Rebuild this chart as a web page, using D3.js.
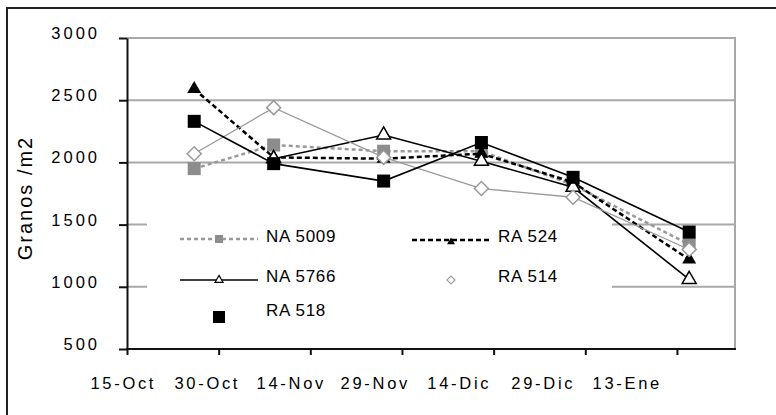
<!DOCTYPE html>
<meta charset="utf-8">
<script src="https://d3js.org/d3.v7.min.js"></script>
<body style="margin:0;background:#fff;">
<svg width="776" height="415"></svg>
<style type="text/css">
body{ font-family: Arial, 'Liberation Sans', sans-serif; }
text{ fill: #000; }
</style>
<script>
    // sampling dates (x) and grains per m2 per variety
    const DATES  = ['2001-10-26', '2001-11-08', '2001-11-26', '2001-12-12', '2001-12-27', '2002-01-15'];
    const NA5009 = [1950, 2140, 2090, 2090, 1820, 1340];
    const RA524  = [2590, 2040, 2030, 2070, 1840, 1220];
    const NA5766 = [null, 2030, 2220, 2010, 1800, 1060];
    const RA514  = [2070, 2440, 2040, 1790, 1720, 1300];
    const RA518  = [2330, 1990, 1850, 2160, 1880, 1440];
    const X_TICKS  = ['2001-10-15', '2001-10-30', '2001-11-14', '2001-11-29', '2001-12-14', '2001-12-29', '2002-01-13'];
    const X_LABELS = ['15-Oct', '30-Oct', '14-Nov', '29-Nov', '14-Dic', '29-Dic', '13-Ene'];
    const Y_TICKS  = [500, 1000, 1500, 2000, 2500, 3000];

    const pLeft = 127, pRight = 735, pTop = 38, pBottom = 349;
    const parse = s => new Date(s + 'T00:00:00Z');

    var svg = d3.select('svg');

    var x = d3.scaleUtc()
        .domain([parse('2001-10-15'), new Date(Date.UTC(2002, 0, 22, 12))])
        .range([pLeft, pRight]);
    var y = d3.scaleLinear().domain([500, 3000]).range([pBottom, pTop]);
    // excel put the date labels on their own spacing
    var xl = d3.scalePoint().domain(X_LABELS).range([122, 626]);

    // outer frame (only top and left survive the crop)
    svg.append('path')
        .attr('d', 'M7,415V8H776')
        .attr('fill', 'none').attr('stroke', '#222').attr('stroke-width', 2);

    /* ----------- grid ----------- */
    svg.selectAll('line.grid').data(Y_TICKS.slice(1)).enter().append('line')
        .attr('class', 'grid')
        .attr('x1', pLeft).attr('x2', pRight)
        .attr('y1', d => y(d)).attr('y2', d => y(d))
        .attr('stroke', '#a8a8a8').attr('stroke-width', 2);
    svg.append('line')
        .attr('x1', pRight).attr('x2', pRight).attr('y1', pTop - 1).attr('y2', pBottom)
        .attr('stroke', '#a8a8a8').attr('stroke-width', 2);

    // legend background hides the middle of the low gridlines
    svg.append('rect')
        .attr('x', 147).attr('y', 205).attr('width', 465).attr('height', 125)
        .attr('fill', '#fff');

    /* ----------- axes ----------- */
    var yAxis = svg.append('g')
        .attr('transform', `translate(${pLeft},0)`)
        .call(d3.axisLeft(y).tickValues(Y_TICKS).tickSize(8).tickSizeOuter(0).tickFormat(''));
    var xAxis = svg.append('g')
        .attr('transform', `translate(0,${pBottom})`)
        .call(d3.axisBottom(x).tickValues(X_TICKS.map(parse)).tickSize(6).tickSizeOuter(0).tickFormat(''));
    [yAxis, xAxis].forEach(g => {
        g.select('.domain').attr('stroke', '#111').attr('stroke-width', 2);
        g.selectAll('.tick line').attr('stroke', '#111').attr('stroke-width', 2);
    });
    xAxis.select('.domain').attr('d', `M${pLeft - 1},0H${pRight + 1}`);

    svg.selectAll('text.ytick').data(Y_TICKS).enter().append('text')
        .attr('class', 'ytick')
        .attr('x', 100).attr('y', d => y(d) + 1)
        .attr('text-anchor', 'end')
        .style('font-size', '16.5px').style('letter-spacing', '3px')
        .text(d => d);

    svg.selectAll('text.xtick').data(X_LABELS).enter().append('text')
        .attr('class', 'xtick')
        .attr('x', d => xl(d) + 1.3).attr('y', 389)
        .attr('text-anchor', 'middle')
        .style('font-size', '16.5px').style('letter-spacing', '2.7px')
        .text(d => d);

    svg.append('text')
        .attr('transform', 'translate(32,198) rotate(-90)')
        .attr('text-anchor', 'middle')
        .style('font-size', '20px').style('letter-spacing', '2px')
        .text('Granos /m2');

    /* ----------- series ----------- */
    const sq = s => d3.symbol(d3.symbolSquare, s * s)();
    const tri = s => d3.symbol(d3.symbolTriangle, s * s * Math.sqrt(3) / 4)();
    const dia = s => d3.symbol(d3.symbolSquare, s * s / 2)();

    var SERIES = [
        {name: 'NA 5009', values: NA5009, stroke: '#999', width: 2.5, dash: '4,3', shape: sq,  size: 13, fill: '#8c8c8c', mstroke: 'none', rot: 0},
        {name: 'RA 524',  values: RA524,  stroke: '#000', width: 2.5, dash: '5,3', shape: tri, size: 14, fill: '#000', mstroke: 'none', rot: 0},
        {name: 'NA 5766', values: NA5766, stroke: '#000', width: 1.6, dash: null,  shape: tri, size: 14, fill: '#fff', mstroke: '#000', rot: 0},
        {name: 'RA 514',  values: RA514,  stroke: '#9a9a9a', width: 1.3, dash: null, shape: dia, size: 14, fill: '#fff', mstroke: '#999', rot: 45},
        {name: 'RA 518',  values: RA518,  stroke: '#000', width: 1.6, dash: null,  shape: sq,  size: 13, fill: '#000', mstroke: 'none', rot: 0}
    ];

    var line = d3.line()
        .defined(d => d.v != null)
        .x(d => x(d.t)).y(d => y(d.v));

    SERIES.forEach(s => {
        var pts = DATES.map((t, i) => ({t: parse(t), v: s.values[i]}));
        svg.append('path')
            .datum(pts)
            .attr('fill', 'none')
            .attr('stroke', s.stroke).attr('stroke-width', s.width)
            .attr('stroke-dasharray', s.dash)
            .attr('d', line);
        svg.selectAll(null).data(pts.filter(d => d.v != null)).enter().append('path')
            .attr('transform', d => `translate(${x(d.t)},${y(d.v)}) rotate(${s.rot})`)
            .attr('d', s.shape(s.size))
            .attr('fill', s.fill).attr('stroke', s.mstroke).attr('stroke-width', 1.5);
    });

    /* ----------- legend ----------- */
    var LEGEND = [
        {i: 0, x: 180, y: 239, ty: 242, line: true},
        {i: 1, x: 412, y: 240, ty: 242, line: true},
        {i: 2, x: 180, y: 280, ty: 282, line: true},
        {i: 3, x: 412, y: 280, ty: 282, line: false},
        {i: 4, x: 180, y: 317, ty: 316, line: false}
    ];
    LEGEND.forEach(l => {
        var s = SERIES[l.i];
        if (l.line) {
            svg.append('line')
                .attr('x1', l.x).attr('x2', l.x + 78).attr('y1', l.y).attr('y2', l.y)
                .attr('stroke', s.stroke).attr('stroke-width', s.width)
                .attr('stroke-dasharray', s.dash);
        }
        svg.append('path')
            .attr('transform', `translate(${l.x + 39},${l.y + (l.i === 1 ? 2 : 0)}) rotate(${s.rot})`)
            .attr('d', s.shape(l.i === 4 ? 12 : 8))
            .attr('fill', s.fill).attr('stroke', s.mstroke).attr('stroke-width', 1.2);
        svg.append('text')
            .attr('x', l.x + 86).attr('y', l.ty)
            .style('font-size', '17px').style('letter-spacing', '0.7px')
            .text(s.name);
    });
</script>
</body>
